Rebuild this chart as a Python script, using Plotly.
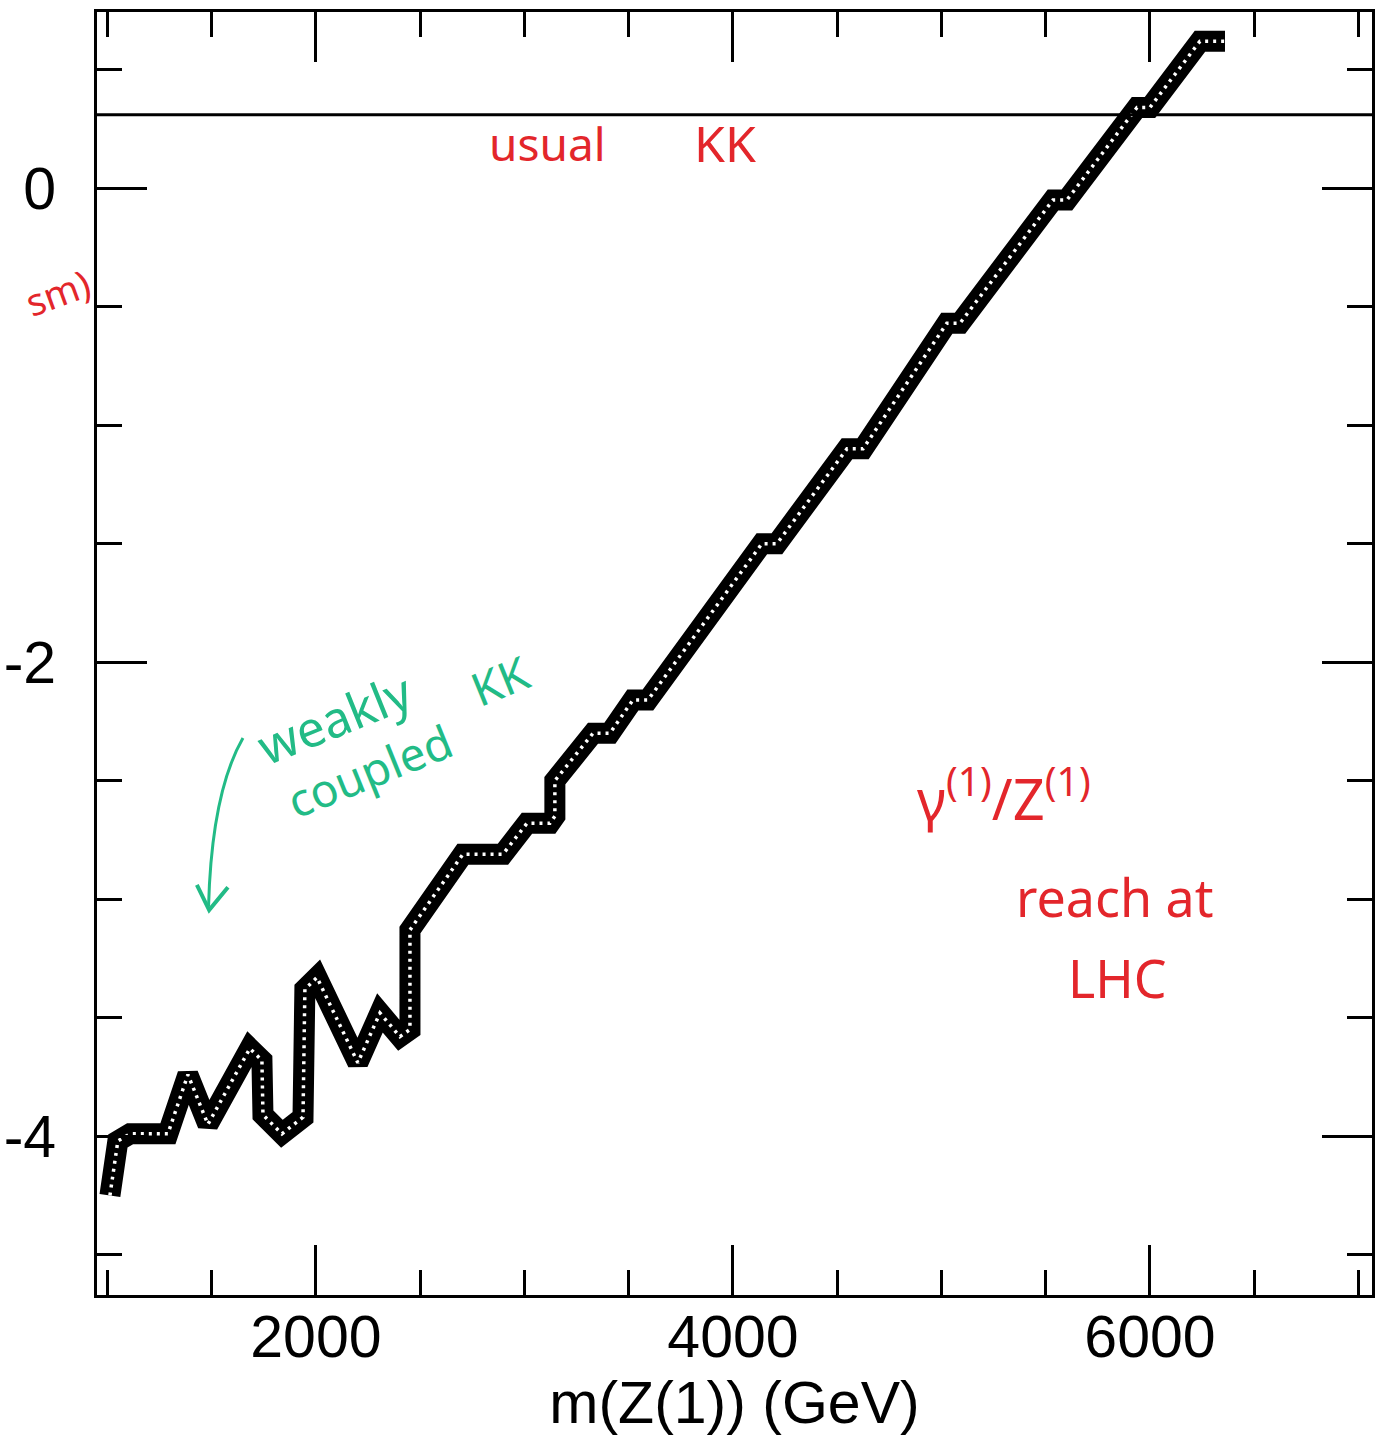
import plotly.graph_objects as go

# ---- data ----
mass_gev = [1012, 1050, 1108, 1290, 1386, 1482, 1683, 1741, 1746, 1837, 1938, 1947,
            2005, 2201, 2307, 2403, 2451, 2451, 2705, 2897, 3012, 3122, 3146, 3146,
            3329, 3410, 3520, 3592, 4139, 4211, 4547, 4624, 5026, 5089, 5535, 5602,
            5938, 6000, 6240, 6360]
log_ratio = [-4.25, -4.02, -3.99, -3.99, -3.74, -3.95, -3.63, -3.68, -3.91, -3.99, -3.92, -3.38,
             -3.33, -3.69, -3.48, -3.58, -3.55, -3.13, -2.81, -2.81, -2.68, -2.68, -2.65, -2.50,
             -2.30, -2.30, -2.16, -2.16, -1.50, -1.50, -1.10, -1.10, -0.57, -0.57, -0.05, -0.05,
             0.34, 0.34, 0.62, 0.62]
usual_kk_level = 0.31

x_tickvals = [2000, 4000, 6000]
x_ticktext = ["2000", "4000", "6000"]
y_tickvals = [0, -2, -4]
y_ticktext = ["0", "-2", "-4"]

RED = "#e3262b"
GREEN = "#22bb86"

fig = go.Figure()

# thick black band
fig.add_trace(go.Scatter(x=mass_gev, y=log_ratio, mode="lines",
                         line=dict(color="black", width=21), hoverinfo="skip",
                         showlegend=False))
# white dotted interior pattern
fig.add_trace(go.Scatter(x=mass_gev, y=log_ratio, mode="lines",
                         line=dict(color="white", width=3.5, dash="3px,5px"),
                         hoverinfo="skip", showlegend=False))

# horizontal "usual KK" line
fig.add_hline(y=usual_kk_level, line=dict(color="black", width=3))

font_hand = "Noto Sans"
fig.add_annotation(x=3110, y=0.19, text="usual", showarrow=False,
                   font=dict(family=font_hand, size=46, color=RED))
fig.add_annotation(x=3962, y=0.19, text="KK", showarrow=False,
                   font=dict(family=font_hand, size=50, color=RED))
fig.add_annotation(x=2091, y=-2.236, text="weakly", showarrow=False, textangle=-22,
                   font=dict(family=font_hand, size=50, color=GREEN))
fig.add_annotation(x=2259, y=-2.456, text="coupled", showarrow=False, textangle=-22,
                   font=dict(family=font_hand, size=46, color=GREEN))
fig.add_annotation(x=2882, y=-2.076, text="KK", showarrow=False, textangle=-22,
                   font=dict(family=font_hand, size=46, color=GREEN))
fig.add_annotation(x=5300, y=-2.56, text="γ<sup>(1)</sup>/Z<sup>(1)</sup>", showarrow=False,
                   font=dict(family=font_hand, size=56, color=RED))
fig.add_annotation(x=5832, y=-2.99, text="reach at", showarrow=False,
                   font=dict(family=font_hand, size=52, color=RED))
fig.add_annotation(x=5842, y=-3.33, text="LHC", showarrow=False,
                   font=dict(family=font_hand, size=52, color=RED))
fig.add_annotation(xref="paper", x=-0.064, y=-0.44, text="sm)", showarrow=False,
                   textangle=-20, font=dict(family=font_hand, size=38, color=RED))

# green curved arrow
fig.add_shape(type="path", xref="x", yref="y",
              path="M 1650,-2.32 Q 1500,-2.55 1485,-3.03",
              line=dict(color=GREEN, width=3))
fig.add_shape(type="path", xref="x", yref="y",
              path="M 1429,-2.94 L 1488,-3.046 L 1578,-2.95",
              line=dict(color=GREEN, width=4))

axis_common = dict(showgrid=False, zeroline=False, showline=True, linecolor="black",
                   linewidth=3, mirror="ticks", ticks="inside", ticklen=50,
                   tickwidth=2.5, tickcolor="black", automargin=False,
                   tickfont=dict(family="Liberation Sans", size=59, color="black"))

fig.update_xaxes(range=[950, 7065], tickvals=x_tickvals, ticktext=x_ticktext,
                 minor=dict(ticks="inside", ticklen=25, tickwidth=2.5, tickcolor="black",
                            tick0=0, dtick=500),
                 ticklabelstandoff=-12,
                 title=dict(text="m(Z(1)) (GeV)", standoff=4,
                            font=dict(family="Liberation Sans", size=59, color="black")),
                 **axis_common)
fig.update_yaxes(range=[-4.67, 0.743], tickvals=y_tickvals, ticktext=y_ticktext,
                 minor=dict(ticks="inside", ticklen=25, tickwidth=2.5, tickcolor="black",
                            tick0=0, dtick=0.5),
                 ticklabelstandoff=26,
                 **axis_common)

fig.update_layout(width=1377, height=1452, margin=dict(l=97, r=5, t=12, b=157),
                  plot_bgcolor="white", paper_bgcolor="white", showlegend=False)

fig.write_html("out.html")
